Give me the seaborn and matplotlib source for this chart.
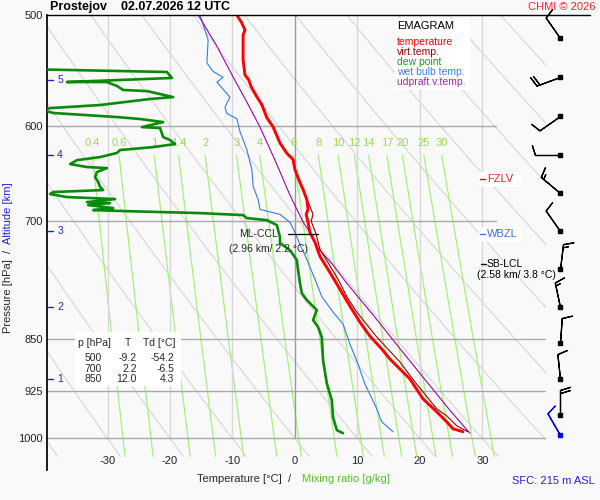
"""Emagram - Prostejov 02.07.2026 12 UTC"""

import numpy as np
import matplotlib
matplotlib.use('Agg')
import matplotlib.pyplot as plt
from matplotlib.lines import Line2D
from matplotlib.patches import Rectangle
import seaborn as sns

###########################
# Sounding data
###########################

# temperature [hPa], [degC]
temp_p = [500, 506.6, 512.4, 516.6, 538.1, 551.5, 556.0, 562.4, 571.6, 579.1, 591.5,
          600.4, 616.5, 627.0, 633.5, 643.9, 657.7, 665.3, 676.2, 687.3, 692.9, 702.0,
          713.6, 725.3, 742.1, 762.1, 783.2, 805.2, 826.5, 845.8, 863.8, 878.0, 907.1,
          937.2, 957.3, 973.1, 984.2, 989.0]
temp_t = [-9.3, -8.5, -8.0, -8.3, -8.3, -8.0, -7.4, -7.0, -6.1, -5.3, -4.5,
          -3.5, -2.4, -1.3, -0.3, 0.0, 0.8, 1.3, 1.9, 2.1, 1.8, 2.1,
          2.4, 3.2, 4.0, 5.6, 7.2, 8.8, 10.4, 12.0, 13.9, 15.2, 18.4,
          20.5, 22.7, 24.3, 25.3, 26.9]

# virtual temperature
tv_p = [500, 506.6, 512.4, 516.6, 538.1, 551.5, 556.0, 562.4, 571.6, 579.1,
        591.5, 600.4, 616.5, 627.0, 633.5, 643.9, 657.7, 665.3, 676.2,
        684.0, 692.9, 700.8, 715.9, 733.7,
        770.5, 792.8, 813.1, 847.0, 882.3, 911.5, 952.6, 963.6, 979.4, 989.0]
tv_t = [-9.3, -8.5, -8.0, -8.3, -8.3, -8.0, -7.4, -7.0, -6.1, -5.3,
        -4.5, -3.5, -2.4, -1.3, -0.3, 0.0, 0.8, 1.3, 1.9,
        2.4, 2.9, 2.6, 3.4, 4.0,
        6.9, 8.3, 9.9, 13.1, 16.8, 19.2, 22.7, 24.3, 25.9, 27.7]

# dew point
dew_p = [500, 545.5, 548.9, 554.3, 558.0, 558.0, 561.6, 565.3, 566.3, 571.9,
         573.7, 579.4, 582.3, 584.2, 587.0, 590.9, 592.8, 595.8, 600.7, 601.6,
         610.6, 613.6, 617.6, 620.7, 623.7, 626.7, 630.9, 634.1, 638.2, 641.3,
         642.4, 646.6, 651.9, 657.2, 662.6, 665.9, 668.1, 670.3, 673.6, 675.8,
         679.2, 680.3, 682.5, 685.9, 688.1, 689.2, 691.5, 693.8, 697.2, 699.5,
         705.2, 719.2, 726.3, 734.7, 746.8, 759.1, 775.5, 788.3, 797.3, 810.5,
         823.8, 833.3, 847.1, 879.7, 913.4, 939.2, 965.7, 986.5, 991.4]
dew_t = [-54.2, -50.0, -20.5, -19.7, -36.5, -30.1, -28.5, -27.5, -23.7, -19.5,
         -23.2, -31.2, -39.2, -40.5, -38.7, -28.5, -24.8, -21.1, -24.5, -21.6,
         -21.1, -20.0, -19.2, -22.7, -28.0, -28.5, -31.2, -34.9, -36.0, -33.3,
         -30.1, -31.7, -32.0, -31.5, -31.2, -30.7, -38.7, -39.2, -36.5, -28.8,
         -33.3, -29.6, -33.1, -29.1, -32.3, -27.5, -15.2, -8.3, -7.7, -4.5,
         -2.9, -2.4, -2.4, -0.8, 0.3, 0.5, 0.8, 1.1, 1.9, 3.5,
         2.9, 3.7, 4.3, 4.5, 5.1, 5.9, 6.1, 6.7, 7.7]

# wet bulb temperature
wb_p = [500, 520.8, 540.8, 548.4, 553.7, 558.1, 572.0, 581.4, 587.5, 592.5,
        605.2, 623.3, 643.9, 661.7, 676.2, 687.3, 692.9, 702.0, 713.6, 728.0,
        745.8, 770.5, 792.8, 813.1, 829.2, 856.8, 885.2, 914.5, 952.6, 973.1, 989.0]
wb_t = [-15.2, -13.9, -14.1, -13.1, -11.5, -12.5, -10.4, -11.2, -10.9, -9.3,
        -8.8, -7.7, -6.9, -6.7, -5.9, -5.6, -2.4, -0.8, 0.0, 0.8,
        1.9, 3.2, 4.3, 6.1, 7.7, 8.8, 10.1, 11.2, 13.1, 13.9, 15.7]

# updraft virtual temperature (parcel)
par_p = [500, 525.2, 553.4, 576.6, 600.7, 634.0, 671.4, 701.7, 713.3, 732.3,
         752.9, 775.5, 819.9, 865.4, 904.5, 954.7, 991.4]
par_t = [-15.5, -12.6, -9.9, -7.7, -5.6, -3.2, -0.8, 1.3, 2.4, 3.7,
         6.1, 8.3, 12.8, 17.0, 20.5, 24.8, 28.0]

# wind (pressure, direction deg, speed kt)
wind_p = [519, 553, 590, 629, 669, 712, 758, 806, 855, 908, 962, 994]
wind_dir = [325, 250, 235, 270, 310, 325, 7, 348, 4, 354, 0, 330]
wind_kt = [10, 20, 10, 10, 15, 10, 15, 15, 10, 10, 20, 10]

# altitude marks
alt_km = [1, 2, 3, 4, 5]
alt_p = [908, 806, 712, 629, 556]

# chart scaffolding
pressure_ticks = [500, 600, 700, 850, 925, 1000]
isobars = [600, 700, 850, 925, 1000]
isotherms = [-30, -20, -10, 10, 20, 30]
temp_ticks = [-30, -20, -10, 0, 10, 20, 30]
theta_lines = list(range(-40, 130, 10))
mix_ratios = [0.4, 0.6, 1, 1.4, 2, 3, 4, 6, 8, 10, 12, 14, 17, 20, 25, 30]
mix_labels = ['0.4', '0.6', '1', '1.4', '2', '3', '4', '6', '8', '10', '12',
              '14', '17', '20', '25', '30']

# table
table_p = [500, 700, 850]
table_t = [-9.2, 2.2, 12.0]
table_td = [-54.2, -6.5, 4.3]

###########################
# Figure
###########################

sns.set_theme(style='white')
plt.rcParams['font.family'] = ['Liberation Sans', 'DejaVu Sans']

BG = '#f9f9f9'
fig = plt.figure(figsize=(6, 5), dpi=100, facecolor=BG)


def fx(px):
    return px / 600


def fy(py):
    return 1 - py / 500


ax = fig.add_axes([fx(47), fy(470), (546 - 47) / 600, (470 - 15) / 500])
ax.set_facecolor(BG)
P_TOP, P_BOT = 500, 1053
T_MIN, T_MAX = -39.7, 40.2

# dry adiabats
p_dry = np.geomspace(500, 1030, 80)
for th in theta_lines:
    t_line = (th + 273.15) * (p_dry / 1000) ** 0.286 - 273.15
    ax.plot(t_line, p_dry, color='#d6d6d6', lw=0.8, zorder=1)

# mixing ratio lines
p_mix = np.geomspace(629, 1030, 40)
for w, lab in zip(mix_ratios, mix_labels):
    e = w * p_mix / (622 + w)
    x = np.log(e / 6.112)
    td = 243.5 * x / (17.67 - x)
    ax.plot(td, p_mix, color='#a4f27a', lw=0.9, zorder=1)
    ax.text(td[0], 617, lab, color='#97dc4c', fontsize=8,
            ha='center', va='center', zorder=2)

# isotherms / isobars
for t in isotherms:
    ax.plot([t, t], [1000, 500], color='#d8d8d8', lw=1, zorder=1)
ax.plot([0, 0], [1000, 500], color='#999999', lw=1, zorder=1)
for p in isobars:
    xmax = 32.2 if p in (600, 700) else T_MAX
    ax.plot([T_MIN, xmax], [p, p], color='#a9a9a9', lw=1, zorder=1)

# profiles
sns.lineplot(x=wb_t, y=wb_p, sort=False, estimator=None, color='#2f7bf0',
             lw=0.8, ax=ax, zorder=3)
sns.lineplot(x=dew_t, y=dew_p, sort=False, estimator=None, color='#0a8a0a',
             lw=1.9, ax=ax, zorder=4)
sns.lineplot(x=par_t, y=par_p, sort=False, estimator=None, color='#a400a4',
             lw=0.8, ax=ax, zorder=4)
sns.lineplot(x=tv_t, y=tv_p, sort=False, estimator=None, color='#9a0000',
             lw=0.8, ax=ax, zorder=4)
sns.lineplot(x=temp_t, y=temp_p, sort=False, estimator=None, color='#ff0000',
             lw=2.1, ax=ax, zorder=5)

ax.set_yscale('log')
ax.set_ylim(P_BOT, P_TOP)
ax.set_xlim(T_MIN, T_MAX)
ax.set_yticks(pressure_ticks)
ax.set_yticklabels([str(p) for p in pressure_ticks])
ax.yaxis.set_minor_locator(matplotlib.ticker.NullLocator())
ax.set_xticks(temp_ticks)
ax.set_xticklabels([str(t) for t in temp_ticks])
ax.tick_params(axis='y', length=0, pad=3, labelsize=8, labelcolor='#222222')
ax.tick_params(axis='x', length=0, pad=-10, labelsize=8, labelcolor='#222222')
ax.set_xlabel('')
ax.set_ylabel('')
for side in ('right', 'bottom', 'top'):
    ax.spines[side].set_visible(False)
ax.spines['left'].set_color('black')
ax.grid(False)

# altitude marks
for km, p in zip(alt_km, alt_p):
    ax.plot([-39.6, -38.7], [p, p], color='#2020e0', lw=1, zorder=6)
    ax.text(-37.6, p, str(km), color='#2020e0', fontsize=7.5,
            ha='center', va='center', zorder=6)

# ML-CCL marker
ax.plot([-1.1, 3.7], [715, 715], color='black', lw=0.9, zorder=6)
ax.text(-2.7, 715, 'ML-CCL', fontsize=7.5, ha='right', va='center', zorder=6)
ax.text(-4.2, 733, '(2.96 km/ 2.2 °C)', fontsize=7.5, ha='center', va='center',
        zorder=6)

# top border line
fig.add_artist(Line2D([fx(47), fx(590)], [fy(15), fy(15)], color='black', lw=1))

# wind barbs
ax2 = fig.add_axes([fx(546), fy(470), (590 - 546) / 600, (470 - 15) / 500],
                   sharey=ax)
ax2.set_xlim(0, 1)
ax2.axis('off')
wd = np.radians(wind_dir)
ws = np.array(wind_kt, dtype=float)
u = -ws * np.sin(wd)
v = -ws * np.cos(wd)
bx = np.full(len(wind_p), (560 - 546) / 44)
colors = ['black'] * (len(wind_p) - 1) + ['#0000ee']
for i in range(len(wind_p)):
    ax2.barbs(bx[i], wind_p[i], u[i], v[i], length=6, color=colors[i],
              lw=0.9, clip_on=False)
    ax2.plot(bx[i], wind_p[i], marker='s', ms=2.5, color=colors[i],
             clip_on=False)

# label panel on the right
fig.add_artist(Rectangle((fx(479), fy(187)), 43 / 600, 15 / 500,
                         facecolor='white', edgecolor='none'))
fig.add_artist(Rectangle((fx(479), fy(242)), 43 / 600, 15 / 500,
                         facecolor='white', edgecolor='none'))
fig.add_artist(Line2D([fx(480), fx(485)], [fy(179), fy(179)], color='#ff0000', lw=1))
fig.text(fx(487), fy(179), 'FZLV', color='#ff2020', fontsize=8, va='center')
fig.add_artist(Line2D([fx(480), fx(485)], [fy(234), fy(234)], color='#3a70e0', lw=1))
fig.text(fx(487), fy(234), 'WBZL', color='#3a70e0', fontsize=8, va='center')
fig.add_artist(Line2D([fx(481), fx(486)], [fy(264), fy(264)], color='black', lw=1))
fig.text(fx(487), fy(264), 'SB-LCL', color='black', fontsize=7.5, va='center')
fig.text(fx(516), fy(275), '(2.58 km/ 3.8 °C)', color='black', fontsize=7.5,
         va='center', ha='center')

# legend box
fig.add_artist(Rectangle((fx(395), fy(90)), 75 / 600, 72 / 500,
                         facecolor='white', edgecolor='none'))
fig.text(fx(397), fy(26), 'EMAGRAM', fontsize=8, va='center', color='black')
legend_items = [('temperature', '#ff0000'), ('virt.temp.', '#9a0000'),
                ('dew point', '#1a9a1a'), ('wet bulb temp.', '#3a80f0'),
                ('udpraft v.temp.', '#b020b0')]
for i, (name, col) in enumerate(legend_items):
    fig.text(fx(397), fy(42 + 10 * i), name, fontsize=7.5, color=col, va='center')

# table box
fig.add_artist(Rectangle((fx(75), fy(386)), 106 / 600, 54 / 500,
                         facecolor='white', edgecolor='none'))
fig.text(fx(78), fy(343), 'p [hPa]', fontsize=7.5, va='center')
fig.text(fx(128), fy(343), 'T', fontsize=7.5, va='center', ha='center')
fig.text(fx(143), fy(343), 'Td [°C]', fontsize=7.5, va='center')
for i, (p, t, td) in enumerate(zip(table_p, table_t, table_td)):
    yy = fy(358 + 10.5 * i)
    fig.text(fx(102), yy, f'{p}', fontsize=7.5, va='center', ha='right')
    fig.text(fx(137), yy, f'{t:.1f}', fontsize=7.5, va='center', ha='right')
    fig.text(fx(174), yy, f'{td:.1f}', fontsize=7.5, va='center', ha='right')

# titles and axis captions
fig.text(fx(50), fy(7), 'Prostejov    02.07.2026 12 UTC', fontsize=9,
         fontweight='bold', va='center', color='black')
fig.text(fx(596), fy(7), 'CHMI © 2026', fontsize=8, color='#ff2020',
         va='center', ha='right')
fig.text(fx(512), fy(481), 'SFC: 215 m ASL', fontsize=8, color='#2020e0',
         va='center')
fig.text(fx(197), fy(479), 'Temperature [°C]  /', fontsize=8, va='center')
fig.text(fx(302), fy(479), 'Mixing ratio [g/kg]', fontsize=8, va='center',
         color='#55c030')
fig.text(fx(8), fy(296), 'Pressure [hPa]', fontsize=8, va='center',
         ha='center', rotation=90)
fig.text(fx(8), fy(251), '/', fontsize=8, va='center', ha='center', rotation=90)
fig.text(fx(8), fy(213), 'Altitude [km]', fontsize=8, va='center',
         ha='center', rotation=90, color='#2020e0')

fig.savefig('out.png', dpi=100, facecolor=BG)
